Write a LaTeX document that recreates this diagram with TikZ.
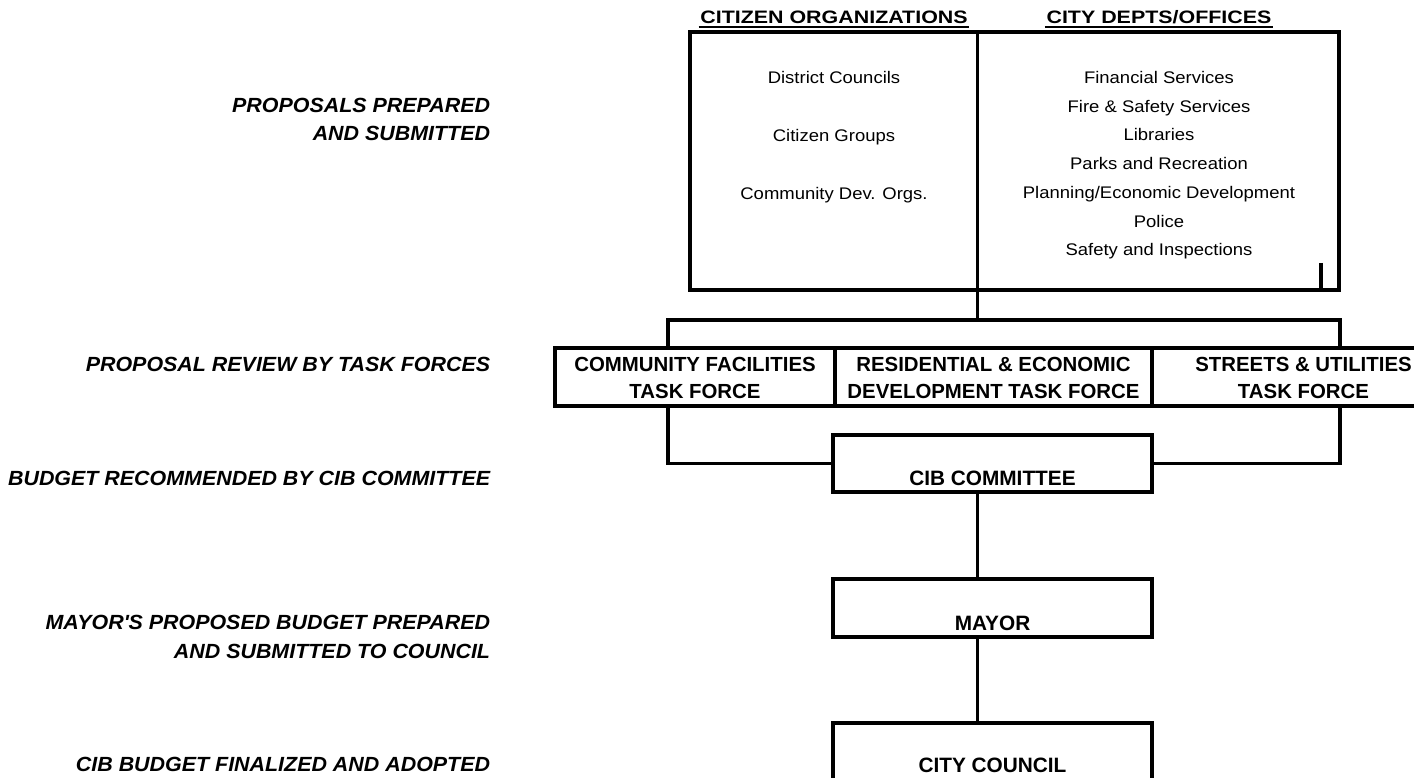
\documentclass[tikz,border=0pt]{standalone}
\usepackage{fontspec}
\setmainfont{Liberation Sans}
\newfontfamily\bodyfont[FakeStretch=1.1]{Liberation Sans}
\newfontfamily\hdrfont[FakeStretch=1.19]{Liberation Sans}
\newfontfamily\lblfont[FakeStretch=1.045]{Liberation Sans}
\begin{document}
\begin{tikzpicture}[x=1pt,y=-1pt, line width=3.2pt, line join=miter,
  box/.style={draw, rectangle, inner sep=0pt, outer sep=0pt, line width=3.2pt},
  body/.style={inner sep=0pt, anchor=base, font=\bodyfont\fontsize{16.8}{20}\selectfont},
  hdr/.style={inner sep=0pt, anchor=base, font=\hdrfont\bfseries\fontsize{18}{20}\selectfont},
  lbl/.style={inner sep=0pt, anchor=base east, font=\lblfont\bfseries\itshape\fontsize{20.5}{24}\selectfont},
  tft/.style={inner sep=0pt, anchor=base, font=\bfseries\fontsize{20.4}{24}\selectfont},
  bxt/.style={inner sep=0pt, anchor=base, font=\bfseries\fontsize{20.8}{24}\selectfont},
  uline/.style={line width=2pt}]
\useasboundingbox (0,0) rectangle (1414,778);

% top box
\node[box, minimum width=649pt, minimum height=258pt] (top) at (1014.5,161) {};
\coordinate (div) at (977.5,161);
\coordinate (tick) at (1321,263);
\draw (top.north -| div) -- (top.south -| div);
\draw (tick) -- (tick |- top.south);

% headers
\node[hdr] (h1) at (834,23.3) {CITIZEN ORGANIZATIONS};
\node[hdr] (h2) at (1159,23.3) {CITY DEPTS/OFFICES};
\draw[uline] ([yshift=-3.6pt]h1.base west) -- ([yshift=-3.6pt]h1.base east);
\draw[uline] ([yshift=-3.6pt]h2.base west) -- ([yshift=-3.6pt]h2.base east);

% left column
\node[body] (c1) at (834,83.3) {District Councils};
\node[body] (c2) at (834,141.7) {Citizen Groups};
\node[body] (c3) at (834,199.3) {Community Dev. Orgs.};

% right column
\node[body] (d1) at (1159,83.3) {Financial Services};
\node[body] (d2) at (1159,112.05) {Fire \& Safety Services};
\node[body] (d3) at (1159,140.8) {Libraries};
\node[body] (d4) at (1159,169.55) {Parks and Recreation};
\node[body] (d5) at (1159,198.3) {Planning/Economic Development};
\node[body] (d6) at (1159,227.05) {Police};
\node[body] (d7) at (1159,255.8) {Safety and Inspections};

% task forces
\node[box, minimum width=280pt, minimum height=58pt] (tf1) at (695,377) {};
\node[box, minimum width=317pt, minimum height=58pt] (tf2) at (993.5,377) {};
\node[box, minimum width=303pt, minimum height=58pt] (tf3) at (1303.5,377) {};
\node[tft] (t1a) at (695,371) {COMMUNITY FACILITIES};
\node[tft] (t1b) at (695,398) {TASK FORCE};
\node[tft] (t2a) at (993.5,371) {RESIDENTIAL \& ECONOMIC};
\node[tft] (t2b) at (993.5,398) {DEVELOPMENT TASK FORCE};
\node[tft] (t3a) at (1303.5,371) {STREETS \& UTILITIES};
\node[tft] (t3b) at (1303.5,398) {TASK FORCE};

% bus
\coordinate (bus) at (977.5,320);
\coordinate (busL) at (668,320);
\coordinate (busR) at (1340,320);
\draw (top.south -| div) -- (bus);
\draw (busL |- tf1.north) -- (busL) -- (busR) -- (busR |- tf3.north);

% CIB, Mayor, Council
\node[box, minimum width=319pt, minimum height=57pt] (cib) at (992.5,463.5) {};
\node[bxt] (cibt) at (992.5,485) {CIB COMMITTEE};
\node[box, minimum width=319pt, minimum height=58pt] (mayor) at (992.5,608) {};
\node[bxt] (mayort) at (992.5,630) {MAYOR};
\node[box, minimum width=319pt, minimum height=67pt] (council) at (992.5,756.5) {};
\node[bxt] (councilt) at (992.5,772.5) {CITY COUNCIL};

\draw (busL |- tf1.south) |- (cib.west);
\draw (busR |- tf3.south) |- (cib.east);
\draw (cib.south -| div) -- (mayor.north -| div);
\draw (mayor.south -| div) -- (council.north -| div);

% left labels
\node[lbl] (l1a) at (491.7,112.3) {PROPOSALS PREPARED};
\node[lbl] (l1b) at (491.7,141) {AND SUBMITTED};
\node[lbl] (l2) at (491.7,371) {PROPOSAL REVIEW BY TASK FORCES};
\node[lbl] (l3) at (491.7,485) {BUDGET RECOMMENDED BY CIB COMMITTEE};
\node[lbl] (l4a) at (491.7,629.3) {MAYOR\textquotesingle S PROPOSED BUDGET PREPARED};
\node[lbl] (l4b) at (491.7,658.3) {AND SUBMITTED TO COUNCIL};
\node[lbl] (l5) at (491.7,771.7) {CIB BUDGET FINALIZED AND ADOPTED};
\end{tikzpicture}
\end{document}
